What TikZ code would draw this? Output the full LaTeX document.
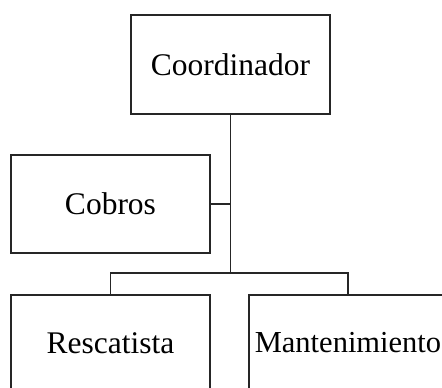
\documentclass[tikz,border=0pt]{standalone}
\usepackage{fontspec}
\setmainfont{Liberation Serif}
\begin{document}
\begin{tikzpicture}[x=1pt,y=-1pt,
  box/.style={draw=black!85, line width=1.6pt, inner sep=0pt, text=black,
    font=\fontsize{31.5}{36}\selectfont},
  link/.style={draw=black!85, line width=1.6pt}]
\useasboundingbox (0,0) rectangle (442,388);
\clip (0,0) rectangle (442,388);
\node[box, line width=2.4pt, minimum width=199pt, minimum height=99pt] (coord) at (230.5,64.5) {Coordinador};
\node[box, minimum width=199pt, minimum height=98pt] (cobros) at (110.5,204) {Cobros};
\node[box, minimum width=199pt, minimum height=96pt] (resc) at (110.5,343) {Rescatista};
\node[box, font=\fontsize{30.5}{36}\selectfont, minimum width=198pt, minimum height=96pt] (mant) at (348,343) {Mantenimiento};
\coordinate (bar) at (coord.south |- 0,273);
\draw[link] (coord.south) -- (bar);
\draw[link] (cobros.east) -- (cobros.east -| coord.south);
\draw[link] (resc.north) |- (bar) -| (mant.north);
\end{tikzpicture}
\end{document}
